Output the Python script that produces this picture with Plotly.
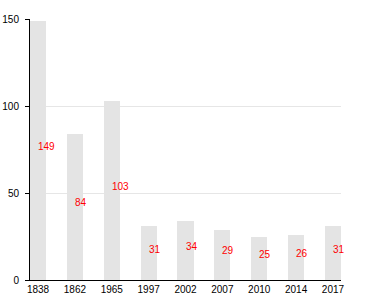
import plotly.graph_objects as go

years = ["1838", "1862", "1965", "1997", "2002", "2007", "2010", "2014", "2017"]
values = [149, 84, 103, 31, 34, 29, 25, 26, 31]
y_ticks = [0, 50, 100, 150]

idx = list(range(len(years)))

fig = go.Figure()
fig.add_trace(go.Bar(
    x=idx, y=values, width=0.435,
    marker=dict(color="#e4e4e4", line=dict(width=0)),
    hoverinfo="skip",
))

for i, v in zip(idx, values):
    fig.add_annotation(
        x=i, y=v / 2, text=str(v), showarrow=False,
        xanchor="left", yanchor="middle", yshift=4, xshift=-2,
        font=dict(family="Liberation Sans, Arial", size=10, color="#ff0000"),
    )

fig.update_layout(
    width=380, height=300,
    margin=dict(l=30, r=39, t=19, b=20, autoexpand=False),
    plot_bgcolor="white", paper_bgcolor="white",
    showlegend=False,
    font=dict(family="Liberation Sans, Arial", size=10, color="#000000"),
    bargap=0,
)
fig.update_xaxes(
    range=[-0.218, 8.218], tickvals=idx, ticktext=years,
    showline=True, linecolor="#000000", linewidth=1,
    showgrid=False, zeroline=False, ticks="", ticklabelstandoff=0,
    automargin=False,
)
fig.update_yaxes(
    range=[0, 150], tickvals=y_ticks,
    showline=True, linecolor="#000000", linewidth=1,
    showgrid=True, gridcolor="#e6e6e6", gridwidth=1,
    zeroline=False, ticks="outside", ticklen=4, tickcolor="#000000",
    ticklabelstandoff=4, automargin=False,
)

fig.write_html("out.html")
